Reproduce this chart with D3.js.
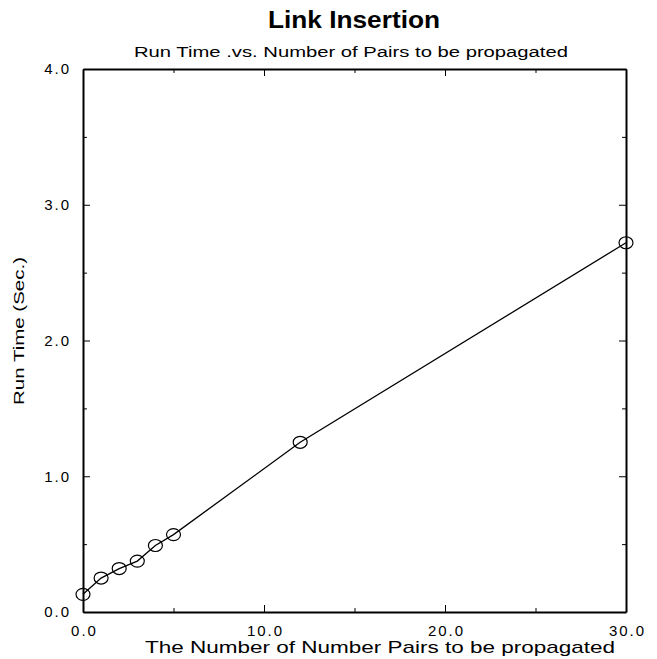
<!DOCTYPE html>
<html><head><meta charset="utf-8">
<script src="https://cdn.jsdelivr.net/npm/d3@7"></script>
<style>body{margin:0;background:#fff}svg{display:block}text{font-family:"Liberation Sans",Arial,sans-serif;fill:#000}</style>
</head><body><svg id="c" width="657" height="659"></svg>
<script>
const pairs = [0, 1, 2, 3, 4, 5, 12, 30];
const runTime = [0.13, 0.25, 0.32, 0.375, 0.49, 0.57, 1.25, 2.72];
const xTicks = [0, 10, 20, 30];
const xMinor = [5, 15, 25];
const yTicks = [0, 1, 2, 3, 4];
const yMinor = [0.5, 1.5, 2.5, 3.5];
const title = "Link Insertion";
const subtitle = "Run Time .vs. Number of Pairs to be propagated";
const xLabel = "The Number of Number Pairs to be propagated";
const yLabel = "Run Time (Sec.)";

const svg = d3.select("#c");
const L = 83, R = 626, T = 69, B = 612;
const x = d3.scaleLinear().domain([0, 30]).range([L, R]);
const y = d3.scaleLinear().domain([0, 4]).range([B, T]);
const fmt = d3.format(".1f");

function styleLabels(g) {
  g.selectAll("text").attr("font-size", 15).attr("letter-spacing", 2)
    .attr("font-family", "'Liberation Sans',Arial,sans-serif");
}
// bottom
svg.append("g").attr("transform", `translate(0,${B})`)
  .call(d3.axisBottom(x).tickValues(xTicks).tickFormat(fmt).tickSizeInner(-7).tickSizeOuter(0).tickPadding(13))
  .call(g => { g.select(".domain").attr("stroke-width", 2); styleLabels(g); g.selectAll("text").attr("dx", 1); });
svg.append("g").attr("transform", `translate(0,${B})`)
  .call(d3.axisBottom(x).tickValues(xMinor).tickFormat("").tickSizeInner(-4).tickSizeOuter(0))
  .call(g => g.select(".domain").remove());
// top
svg.append("g").attr("transform", `translate(0,${T})`)
  .call(d3.axisTop(x).tickValues(xTicks).tickFormat("").tickSizeInner(-7).tickSizeOuter(0))
  .call(g => g.select(".domain").attr("stroke-width", 2));
svg.append("g").attr("transform", `translate(0,${T})`)
  .call(d3.axisTop(x).tickValues(xMinor).tickFormat("").tickSizeInner(-4).tickSizeOuter(0))
  .call(g => g.select(".domain").remove());
// left
svg.append("g").attr("transform", `translate(${L},0)`)
  .call(d3.axisLeft(y).tickValues(yTicks).tickFormat(fmt).tickSizeInner(-7).tickSizeOuter(0).tickPadding(12))
  .call(g => { g.select(".domain").attr("stroke-width", 2); styleLabels(g); });
svg.append("g").attr("transform", `translate(${L},0)`)
  .call(d3.axisLeft(y).tickValues(yMinor).tickFormat("").tickSizeInner(-4).tickSizeOuter(0))
  .call(g => g.select(".domain").remove());
// right
svg.append("g").attr("transform", `translate(${R},0)`)
  .call(d3.axisRight(y).tickValues(yTicks).tickFormat("").tickSizeInner(-7).tickSizeOuter(0))
  .call(g => g.select(".domain").attr("stroke-width", 2));
svg.append("g").attr("transform", `translate(${R},0)`)
  .call(d3.axisRight(y).tickValues(yMinor).tickFormat("").tickSizeInner(-4).tickSizeOuter(0))
  .call(g => g.select(".domain").remove());

const data = pairs.map((p, i) => ({p, t: runTime[i]}));
svg.append("path").datum(data)
  .attr("fill", "none").attr("stroke", "#000").attr("stroke-width", 1.3)
  .attr("d", d3.line().x(d => x(d.p)).y(d => y(d.t)));
svg.selectAll("ellipse.pt").data(data).join("ellipse")
  .attr("cx", d => x(d.p)).attr("cy", d => y(d.t))
  .attr("rx", 7).attr("ry", 6)
  .attr("fill", "none").attr("stroke", "#000").attr("stroke-width", 1.2);

svg.append("text").attr("x", 354).attr("y", 28).attr("text-anchor", "middle")
  .attr("font-size", 23).attr("font-weight", "bold")
  .attr("textLength", 172).attr("lengthAdjust", "spacingAndGlyphs").text(title);
svg.append("text").attr("x", 351).attr("y", 57).attr("text-anchor", "middle")
  .attr("font-size", 15.5)
  .attr("textLength", 434).attr("lengthAdjust", "spacingAndGlyphs").text(subtitle);
svg.append("text").attr("x", 380).attr("y", 653).attr("text-anchor", "middle")
  .attr("font-size", 17)
  .attr("textLength", 470).attr("lengthAdjust", "spacingAndGlyphs").text(xLabel);
svg.append("text").attr("transform", `translate(24,331) rotate(-90)`)
  .attr("text-anchor", "middle").attr("font-size", 15)
  .attr("textLength", 148).attr("lengthAdjust", "spacingAndGlyphs").text(yLabel);
</script></body></html>
